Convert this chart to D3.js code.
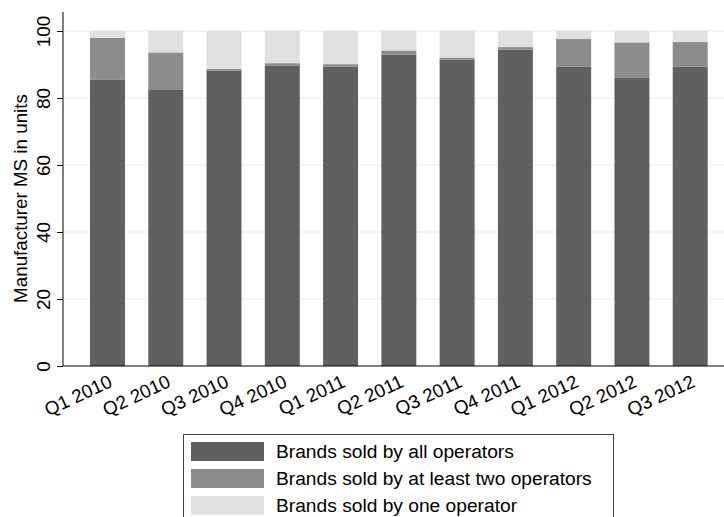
<!DOCTYPE html>
<html>
<head>
<meta charset="utf-8">
<script src="https://cdn.jsdelivr.net/npm/d3@7"></script>
<style>
  html, body { margin: 0; padding: 0; background: #fff; }
  svg { display: block; font-family: "Liberation Sans", Arial, sans-serif; }
</style>
</head>
<body>
<svg id="chart" width="724" height="517"></svg>
<script>
// ---- data ----
const categories = ["Q1 2010","Q2 2010","Q3 2010","Q4 2010","Q1 2011","Q2 2011","Q3 2011","Q4 2011","Q1 2012","Q2 2012","Q3 2012"];
const soldByAll      = [85.4, 82.6, 88.1, 89.6, 89.3, 92.9, 91.4, 94.4, 89.3, 86.0, 89.3];
const soldByAtLeast2 = [12.6, 11.0,  0.6,  0.8,  0.8,  1.3,  0.7,  0.8,  8.3, 10.6,  7.4];
const soldByOne      = [ 2.0,  6.4, 11.3,  9.6,  9.9,  5.8,  7.9,  4.8,  2.4,  3.4,  3.3];
const seriesNames = ["Brands sold by all operators","Brands sold by at least two operators","Brands sold by one operator"];
const yTicks = [0, 20, 40, 60, 80, 100];

// ---- layout ----
const colors = ["#606060", "#8c8c8c", "#e0e0e0"];
const svg = d3.select("#chart");
const left = 63, right = 724, bottom = 366, top100 = 31, axisTop = 12;

const x = d3.scaleBand().domain(categories).range([78.35, 719.35]).paddingInner(0.4).paddingOuter(0.2);
const y = d3.scaleLinear().domain([0, 100]).range([bottom, top100]);

const rows = categories.map((c, i) => ({cat: c, a: soldByAll[i], b: soldByAtLeast2[i], c1: soldByOne[i]}));
const stack = d3.stack().keys(["a", "b", "c1"])(rows);

// gridlines
svg.append("g").selectAll("line").data(yTicks.filter(t => t > 0)).join("line")
  .attr("x1", left).attr("x2", right)
  .attr("y1", d => y(d)).attr("y2", d => y(d))
  .attr("stroke", "#eaeaea").attr("stroke-width", 1.2);

// bars
svg.append("g").selectAll("g").data(stack).join("g")
  .attr("fill", (d, i) => colors[i])
  .selectAll("rect").data(d => d).join("rect")
  .attr("x", d => x(d.data.cat))
  .attr("width", x.bandwidth())
  .attr("y", d => y(d[1]))
  .attr("height", d => y(d[0]) - y(d[1]));

// y axis
const yAxis = d3.axisLeft(y).tickValues(yTicks).tickSize(6).tickSizeOuter(0);
const gy = svg.append("g").attr("transform", `translate(${left},0)`).call(yAxis);
gy.select(".domain").remove();
gy.selectAll(".tick line").attr("stroke", "#000");
gy.selectAll(".tick text")
  .attr("font-size", 19).attr("fill", "#000")
  .attr("font-family", "Liberation Sans, Arial, sans-serif")
  .attr("transform", "rotate(-90)")
  .attr("x", 0).attr("y", -13).attr("dy", 0)
  .attr("text-anchor", "middle");
svg.append("line").attr("x1", left).attr("x2", left)
  .attr("y1", bottom).attr("y2", axisTop).attr("stroke", "#000");

// x axis
svg.append("line").attr("x1", left).attr("x2", right)
  .attr("y1", bottom).attr("y2", bottom).attr("stroke", "#000");
svg.append("g").selectAll("text").data(categories).join("text")
  .attr("transform", d => `translate(${x(d) + x.bandwidth() / 2 + 6},${bottom + 20}) rotate(-25)`)
  .attr("text-anchor", "end")
  .attr("font-size", 18.8)
  .text(d => d);

// y title
svg.append("text")
  .attr("transform", `translate(27,${(y(0) + y(100)) / 2}) rotate(-90)`)
  .attr("text-anchor", "middle")
  .attr("font-size", 18.8)
  .text("Manufacturer MS in units");

// legend
const lg = svg.append("g");
lg.append("rect").attr("x", 183.5).attr("y", 434.5).attr("width", 430).attr("height", 100)
  .attr("fill", "#fff").attr("stroke", "#404040").attr("stroke-width", 1);
const items = lg.selectAll("g.item").data(seriesNames).join("g").attr("class", "item")
  .attr("transform", (d, i) => `translate(191,${442 + i * 27})`);
items.append("rect").attr("width", 73).attr("height", 19).attr("fill", (d, i) => colors[i]);
items.append("text").attr("x", 85).attr("y", 16).attr("font-size", 19.2).text(d => d);
</script>
</body>
</html>
